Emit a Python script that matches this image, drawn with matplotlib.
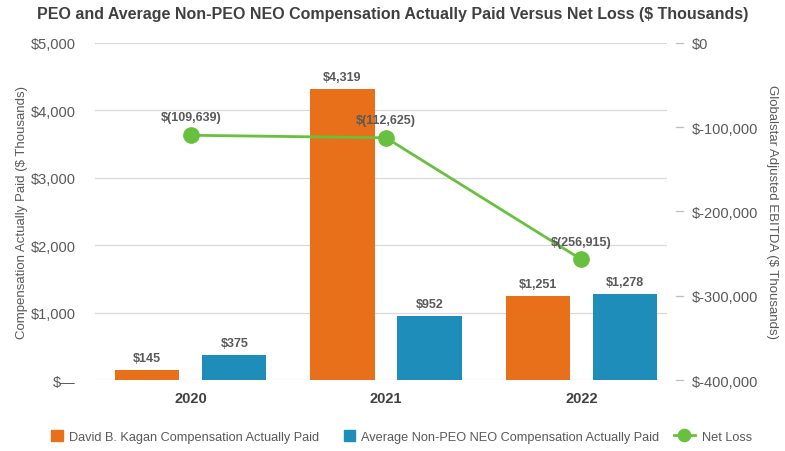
import numpy as np
import matplotlib.pyplot as plt
import matplotlib.patches as mpatches
from matplotlib.legend_handler import HandlerPatch

plt.rcParams['font.family'] = ['Liberation Sans', 'DejaVu Sans']

years = ['2020', '2021', '2022']
peo_cap = [145, 4319, 1251]
neo_cap = [375, 952, 1278]
net_loss = [-109639, -112625, -256915]

left_ticks = [0, 1000, 2000, 3000, 4000, 5000]
left_labels = ['$—', '$1,000', '$2,000', '$3,000', '$4,000', '$5,000']
right_ticks = [-400000, -300000, -200000, -100000, 0]
right_labels = ['$-400,000', '$-300,000', '$-200,000', '$-100,000', '$0']

c_orange = '#E8701A'
c_blue = '#1E8DBA'
c_green = '#68C03F'
c_text = '#595959'
c_grid = '#D9D9D9'

fig = plt.figure(figsize=(7.85, 4.52), dpi=100)
ax = fig.add_axes([0.121, 0.157, 0.729, 0.746])

x = np.arange(len(years))
w = 0.33
off = 0.223
b1 = ax.bar(x - off, peo_cap, w, color=c_orange, zorder=2)
b2 = ax.bar(x + off, neo_cap, w, color=c_blue, zorder=2)
for bars, vals in ((b1, peo_cap), (b2, neo_cap)):
    for r, v in zip(bars, vals):
        ax.text(r.get_x() + r.get_width() / 2, v + 90, f'${v:,}',
                ha='center', va='bottom', fontsize=9, fontweight='bold',
                color=c_text)

ax.set_ylim(0, 5000)
ax.set_xlim(-0.49, 2.44)
ax.set_yticks(left_ticks)
ax.set_yticklabels(left_labels)
ax.yaxis.grid(True, color=c_grid, linewidth=0.9, zorder=0)
ax.tick_params(axis='y', length=0, pad=14, labelsize=10.5, labelcolor=c_text)
ax.set_xticks(x)
ax.set_xticklabels(years, fontweight='bold', fontsize=10.5, color='#404040')
ax.tick_params(axis='x', length=0, pad=8)
for s in ax.spines.values():
    s.set_visible(False)
ax.set_ylabel('Compensation Actually Paid ($ Thousands)', fontsize=9.5,
              color=c_text, labelpad=2)

ax2 = ax.twinx()
line, = ax2.plot(x, net_loss, color=c_green, linewidth=2, marker='o',
                 markersize=11, zorder=3)
for xi, v in zip(x, net_loss):
    ax2.text(xi, v + 14000, f'$({-v:,})', ha='center', va='bottom',
             fontsize=9, fontweight='bold', color=c_text)
ax2.set_ylim(-400000, 0)
ax2.set_yticks(right_ticks)
ax2.set_yticklabels(right_labels)
ax2.tick_params(axis='y', length=0, pad=18, labelsize=10.5,
                labelcolor=c_text)
ax2.set_ylabel('Globalstar Adjusted EBITDA ($ Thousands)', fontsize=9.5,
               color=c_text, rotation=270, labelpad=14)
for s in ax2.spines.values():
    s.set_visible(False)

# small dash marks between the gridlines and the right labels
for yv in right_ticks:
    ax2.plot([1.015, 1.027], [yv, yv], transform=ax2.get_yaxis_transform(),
             color='#BFBFBF', linewidth=0.9, clip_on=False)

fig.suptitle('PEO and Average Non-PEO NEO Compensation Actually Paid Versus Net Loss ($ Thousands)',
             fontsize=11.5, fontweight='bold', color='#404040', y=0.985)


def square_patch(legend, orig_handle, xdescent, ydescent, width, height, fontsize):
    # square swatch sitting at the right end of the handle box
    return mpatches.Rectangle((width - height - xdescent, -ydescent), height, height)


handles = [mpatches.Patch(color=c_orange), mpatches.Patch(color=c_blue), line]
labels = ['David B. Kagan Compensation Actually Paid',
          'Average Non-PEO NEO Compensation Actually Paid', 'Net Loss']
fig.legend(handles, labels, loc='center', bbox_to_anchor=(0.505, 0.033),
           ncol=3, frameon=False, fontsize=9.2, labelcolor=c_text,
           handlelength=1.7, handleheight=1.0, columnspacing=1.1,
           handletextpad=0.5, markerscale=0.8,
           handler_map={mpatches.Patch: HandlerPatch(patch_func=square_patch)})

fig.savefig('out.png', dpi=100)
